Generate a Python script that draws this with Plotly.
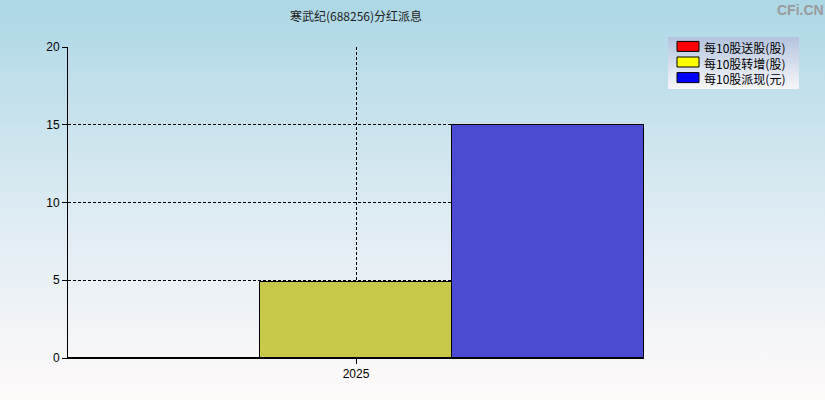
import plotly.graph_objects as go
import base64

# ---- data ----
categories = ["2025"]
series_names = ["每10股送股(股)", "每10股转增(股)", "每10股派现(元)"]
song_gu = [0]        # 每10股送股
zhuan_zeng = [4.9]   # 每10股转增
pai_xian = [15]      # 每10股派现
y_ticks = [0, 5, 10, 15, 20]

series_values = [song_gu, zhuan_zeng, pai_xian]
bar_colors = ["#e01010", "#c8c84a", "#4a4ad2"]
legend_colors = ["#ff0000", "#ffff00", "#0000ff"]

W, H = 825, 400
ml, mr, mt, mb = 68, 181, 47, 42
pw, ph = W - ml - mr, H - mt - mb


def px_x(px):
    return (px - ml) / pw


def px_y(py):
    return (H - mb - py) / ph


def svg_uri(stops, vertical=True):
    st = "".join(f'<stop offset="{o}" stop-color="{c}"/>' for o, c in stops)
    x2, y2 = ("0", "1") if vertical else ("1", "0")
    svg = (f'<svg xmlns="http://www.w3.org/2000/svg" width="100" height="100" preserveAspectRatio="none">'
           f'<defs><linearGradient id="g" x1="0" y1="0" x2="{x2}" y2="{y2}">{st}</linearGradient></defs>'
           f'<rect width="100" height="100" fill="url(#g)"/></svg>')
    return "data:image/svg+xml;base64," + base64.b64encode(svg.encode()).decode()


fig = go.Figure()
for i, (name, vals, col) in enumerate(zip(series_names, series_values, bar_colors)):
    fig.add_trace(go.Bar(x=categories, y=vals, name=name, showlegend=False,
                         marker=dict(color=col, line=dict(color="#000000", width=1))))

font_fam = "Liberation Sans, Noto Sans CJK SC, sans-serif"
cjk_fam = "Noto Sans CJK SC, sans-serif"

# custom legend (swatches + labels), styled like the reference
legend_fs = 12
line_h = 1.3 * legend_fs
mid_y = 62
row_centers = [mid_y + (k - 1) * line_h for k in range(len(series_names))]
legend_shapes = []
for col, cy in zip(legend_colors, row_centers):
    legend_shapes.append(dict(type="rect", xref="paper", yref="paper",
                              x0=px_x(677), x1=px_x(699), y0=px_y(cy + 5), y1=px_y(cy - 5),
                              fillcolor=col, line=dict(color="#000000", width=1), layer="above"))
legend_annot = dict(text="<br>".join(series_names), x=px_x(702), y=px_y(mid_y + 1),
                    xref="paper", yref="paper", xanchor="left", yanchor="middle", align="left",
                    showarrow=False, font=dict(family=cjk_fam, size=legend_fs, color="#000000"))

fig.update_layout(
    width=W, height=H,
    margin=dict(l=ml, r=mr, t=mt, b=mb, pad=0),
    barmode="group", bargap=0, bargroupgap=0,
    paper_bgcolor="#ffffff", plot_bgcolor="rgba(0,0,0,0)",
    font=dict(family=font_fam, size=12, color="#000000"),
    title=dict(text="寒武纪(688256)分红派息", x=0.5, xref="paper", xanchor="center",
               y=1 - 17 / H, yref="container", yanchor="middle",
               font=dict(family=cjk_fam, size=12, color="#222222")),
    showlegend=False,
    xaxis=dict(type="category", range=[-0.5, 0.5], showline=True, linecolor="#000000", linewidth=1,
               ticks="outside", ticklen=5, tickcolor="#000000", showgrid=True, gridcolor="#000000",
               gridwidth=1, griddash="3px,2px", zeroline=False,
               tickfont=dict(family=font_fam, size=12, color="#000000")),
    yaxis=dict(range=[0, 20], tickvals=y_ticks, showline=True, linecolor="#000000", linewidth=1,
               ticks="outside", ticklen=5, tickcolor="#000000", showgrid=True, gridcolor="#000000",
               gridwidth=1, griddash="3px,2px", zeroline=False,
               tickfont=dict(family=font_fam, size=12, color="#000000")),
    images=[
        dict(source=svg_uri([(0, "#acd7e5"), (0.5, "#dbeaf2"), (1, "#fffafa")]),
             xref="paper", yref="paper", x=px_x(0), y=px_y(0), sizex=W / pw, sizey=H / ph,
             xanchor="left", yanchor="top", sizing="stretch", layer="below"),
        dict(source=svg_uri([(0, "#b3c3dd"), (1, "#f7f7fb")]),
             xref="paper", yref="paper", x=px_x(668), y=px_y(37),
             sizex=131 / pw, sizey=52 / ph,
             xanchor="left", yanchor="top", sizing="stretch", layer="below"),
    ],
    shapes=legend_shapes,
    annotations=[legend_annot,
        dict(text="<b>CFi.CN</b>", x=px_x(800), y=px_y(10), xref="paper", yref="paper",
             xanchor="center", yanchor="middle", showarrow=False,
             font=dict(family="Liberation Sans, sans-serif", size=14, color="#9a9a9a")),
    ],
)

fig.write_html("out.html", config={"displayModeBar": False},
               post_script="document.body.style.margin='0';document.body.style.padding='0';")
